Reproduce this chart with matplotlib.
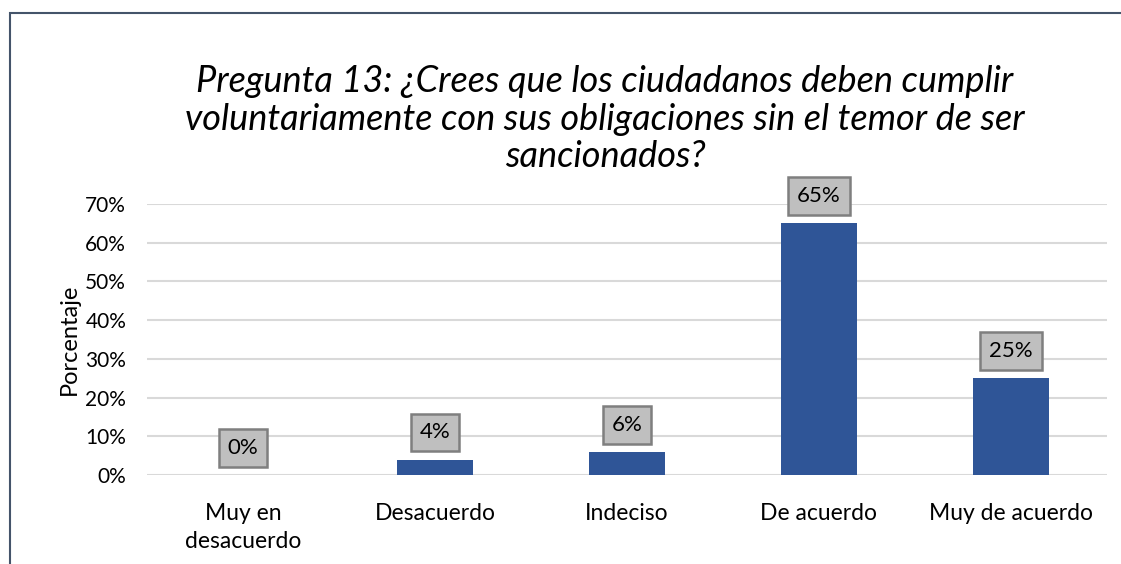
import numpy as np
import matplotlib.pyplot as plt
from matplotlib.patches import Rectangle

# data
categorias = ["Muy en\ndesacuerdo", "Desacuerdo", "Indeciso", "De acuerdo", "Muy de acuerdo"]
porcentajes = [0, 4, 6, 65, 25]
ticks_y = [0, 10, 20, 30, 40, 50, 60, 70]

plt.rcParams['font.family'] = ['Lato', 'DejaVu Sans']

W, H = 1121, 564
fig = plt.figure(figsize=(W / 100, H / 100), dpi=100)

# chart border (goes off right/bottom like the reference)
fig.patches.append(Rectangle((10 / W, -0.05), 1.2, 1 - 13 / H + 0.05,
                             transform=fig.transFigure, fill=False,
                             edgecolor='#44546A', linewidth=1.5))

ax = fig.add_axes([147 / W, 1 - 475 / H, 960 / W, (475 - 204) / H])
x = np.arange(len(categorias))
ax.bar(x, porcentajes, width=0.4, color='#2F5597', zorder=3)
ax.set_xlim(-0.5, len(categorias) - 0.5)
ax.set_ylim(0, 70)
ax.set_yticks(ticks_y)
ax.set_yticklabels([f"{t}%" for t in ticks_y], fontsize=15)
ax.set_xticks(x)
ax.set_xticklabels(categorias, fontsize=16.5, linespacing=1.45)
ax.tick_params(length=0)
ax.tick_params(axis='x', pad=20)
ax.tick_params(axis='y', pad=15)
ax.grid(axis='y', color='#D9D9D9', linewidth=1.5, zorder=0)
for s in ax.spines.values():
    s.set_visible(False)
ax.set_ylabel("Porcentaje", fontsize=17, labelpad=4)

for xi, v in zip(x, porcentajes):
    ax.annotate(f"{v}%", (xi, v), xytext=(0, 19.5), textcoords='offset points',
                ha='center', va='center', fontsize=16,
                bbox=dict(boxstyle='square,pad=0.4', facecolor='#BFBFBF',
                          edgecolor='#7F7F7F', linewidth=1.8))

fig.text(605 / W, 1 - 119 / H,
         "Pregunta 13: ¿Crees que los ciudadanos deben cumplir\n"
         "voluntariamente con sus obligaciones sin el temor de ser\n"
         "sancionados?",
         ha='center', va='center', fontsize=26, style='italic',
         linespacing=1.17)

fig.savefig("out.png", dpi=100)
